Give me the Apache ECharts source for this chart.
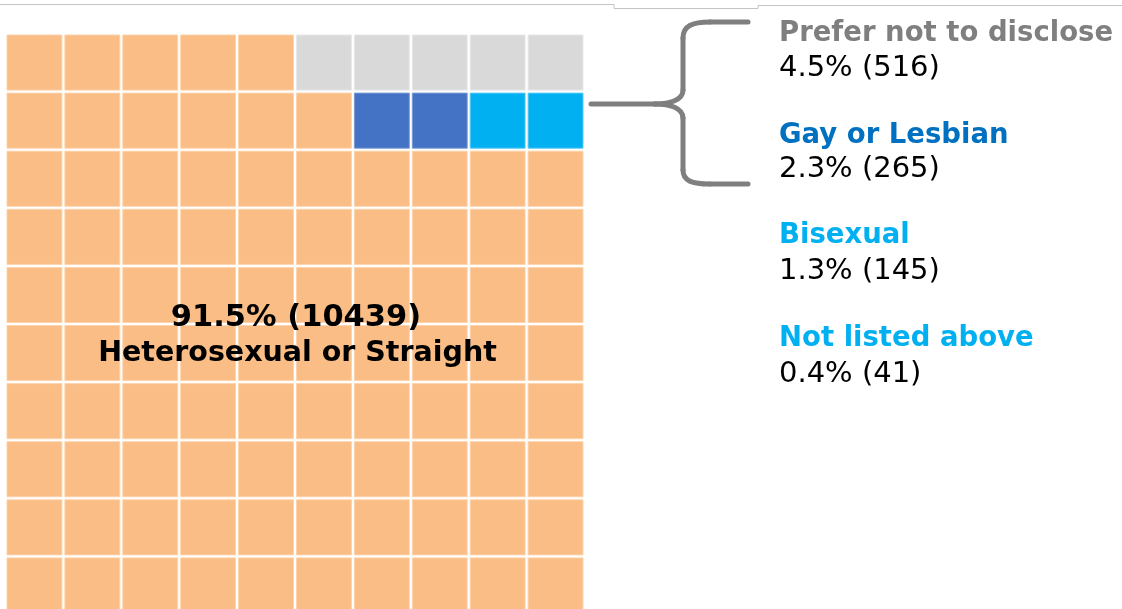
<!DOCTYPE html>
<html>
<head>
<meta charset="utf-8">
<script src="https://cdn.jsdelivr.net/npm/echarts@6/dist/echarts.min.js"></script>
<style>
  html, body { margin: 0; padding: 0; background: #fff; }
  #chart { width: 1122px; height: 609px; }
</style>
</head>
<body>
<div id="chart"></div>
<script>
// categories, in the order they are listed
const categories = ['Heterosexual or Straight', 'Prefer not to disclose', 'Gay or Lesbian', 'Bisexual', 'Not listed above']
const percents = [91.5, 4.5, 2.3, 1.3, 0.4]
const counts = [10439, 516, 265, 145, 41]

// 10 x 10 waffle, one category index per cell (top row first)
const cellRows = [
  [0, 0, 0, 0, 0, 1, 1, 1, 1, 1],
  [0, 0, 0, 0, 0, 0, 2, 2, 3, 3],
  [0, 0, 0, 0, 0, 0, 0, 0, 0, 0],
  [0, 0, 0, 0, 0, 0, 0, 0, 0, 0],
  [0, 0, 0, 0, 0, 0, 0, 0, 0, 0],
  [0, 0, 0, 0, 0, 0, 0, 0, 0, 0],
  [0, 0, 0, 0, 0, 0, 0, 0, 0, 0],
  [0, 0, 0, 0, 0, 0, 0, 0, 0, 0],
  [0, 0, 0, 0, 0, 0, 0, 0, 0, 0],
  [0, 0, 0, 0, 0, 0, 0, 0, 0, 0]
]
const colIds = ['1', '2', '3', '4', '5', '6', '7', '8', '9', '10']
const rowIds = ['1', '2', '3', '4', '5', '6', '7', '8', '9', '10']

const cellColors = ['#F9BD85', '#D9D9D9', '#4472C4', '#00B0F0', '#00B0F0']
const edgeColors = ['#FCD3AC', '#E8E8E8', '#7A9BD6', '#5CCBF5', '#5CCBF5']
const titleColors = ['#000000', '#7F7F7F', '#0070C0', '#00B0F0', '#00B0F0']

const FONT = '"DejaVu Sans", Verdana, sans-serif'

const fmt = i => percents[i] + '% (' + counts[i] + ')'

// waffle cells
const cells = []
cellRows.forEach((row, r) => {
  row.forEach((c, col) => {
    cells.push([col, r, c])
  })
})

// right hand labels (skip the big category, it sits on the waffle)
const titleY = [34, 136, 236, 339]
const valueY = [68, 169, 271, 374]
const sideTexts = []
for (let i = 1; i < categories.length; i++) {
  sideTexts.push({
    type: 'text',
    x: 779,
    y: titleY[i - 1],
    style: {
      text: categories[i],
      font: 'bold 27.5px ' + FONT,
      fill: titleColors[i],
      textVerticalAlign: 'middle'
    }
  })
  sideTexts.push({
    type: 'text',
    x: 779,
    y: valueY[i - 1],
    style: {
      text: fmt(i),
      font: '29px ' + FONT,
      fill: '#000',
      textVerticalAlign: 'middle'
    }
  })
}

// brace, built from straight bits and curves
const braceStyle = { stroke: '#7F7F7F', lineWidth: 5, fill: null, lineCap: 'round' }
const seg = (x1, y1, x2, y2) => ({ type: 'line', shape: { x1, y1, x2, y2 }, style: braceStyle })
const curve = (x1, y1, cpx1, cpy1, cpx2, cpy2, x2, y2) => ({
  type: 'bezierCurve',
  shape: { x1, y1, cpx1, cpy1, cpx2, cpy2, x2, y2 },
  style: braceStyle
})
const brace = [
  seg(591, 104, 655, 104),
  curve(655, 104, 670, 104, 683, 100, 683, 90),
  seg(683, 90, 683, 38),
  curve(683, 38, 683, 26, 692, 22, 710, 22),
  seg(710, 22, 748, 22),
  curve(655, 104, 670, 104, 683, 108, 683, 118),
  seg(683, 118, 683, 170),
  curve(683, 170, 683, 181, 692, 184, 710, 184),
  seg(710, 184, 748, 184)
]

const chart = echarts.init(document.getElementById('chart'), null, { renderer: 'canvas' })

const option = {
  animation: false,
  backgroundColor: '#fff',
  grid: { left: 5.5, top: 33.5, width: 579, height: 581, outerBoundsMode: 'none' },
  xAxis: {
    type: 'category',
    data: colIds,
    show: false
  },
  yAxis: {
    type: 'category',
    data: rowIds,
    inverse: true,
    show: false
  },
  series: [{
    type: 'custom',
    data: cells,
    clip: false,
    renderItem(params, api) {
      const center = api.coord([api.value(0), api.value(1)])
      const size = api.size([1, 1])
      const w = size[0] - 3
      const h = size[1] - 3
      const c = api.value(2)
      return {
        type: 'rect',
        shape: { x: center[0] - w / 2, y: center[1] - h / 2, width: w, height: h },
        style: { fill: cellColors[c], stroke: edgeColors[c], lineWidth: 1 }
      }
    }
  }],
  graphic: [
    // thin rule along the top
    {
      type: 'polyline',
      shape: { points: [[0, 4.5], [614, 4.5], [614, 8.5], [758, 8.5], [758, 5.5], [1122, 5.5]] },
      style: { stroke: '#C4C4C4', lineWidth: 1, fill: null }
    },
    {
      type: 'text',
      x: 296,
      y: 318,
      z: 10,
      style: {
        text: fmt(0),
        font: 'bold 30.5px ' + FONT,
        fill: '#000',
        textAlign: 'center',
        textVerticalAlign: 'middle'
      }
    },
    {
      type: 'text',
      x: 297.5,
      y: 353.5,
      z: 10,
      style: {
        text: categories[0],
        font: 'bold 28.5px ' + FONT,
        fill: '#000',
        textAlign: 'center',
        textVerticalAlign: 'middle'
      }
    }
  ].concat(brace, sideTexts)
}

chart.setOption(option)
</script>
</body>
</html>
